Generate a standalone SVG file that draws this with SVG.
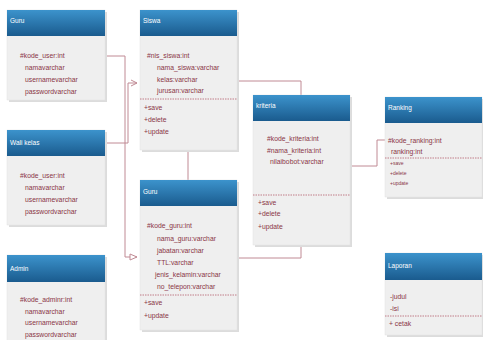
<svg xmlns="http://www.w3.org/2000/svg" width="483" height="340" viewBox="0 0 483 340">
<defs>
<linearGradient id="hg" x1="0" y1="0" x2="0" y2="1">
<stop offset="0" stop-color="#3c93cc"/>
<stop offset="1" stop-color="#1a5b8e"/>
</linearGradient>
<marker id="arr" markerWidth="8" markerHeight="8" refX="7" refY="4" orient="auto" markerUnits="userSpaceOnUse">
<path d="M1,1 L7,4 L1,7" fill="none" stroke="#c08a94" stroke-width="1"/>
</marker>
<marker id="tri" markerWidth="10" markerHeight="10" refX="8" refY="4" orient="auto" markerUnits="userSpaceOnUse">
<path d="M1,1 L8,4 L1,7 Z" fill="#ffffff" stroke="#c08a94" stroke-width="1"/>
</marker>
</defs>
<style>
.body{fill:#efefef;stroke:#e2e2e2;stroke-width:0.5}
.sh{fill:#dcdcdc}
.hd{fill:url(#hg)}
.ht{font-family:"Liberation Sans",Arial,sans-serif;font-size:6.5px;fill:#ffffff}
.t{font-family:"Liberation Sans",Arial,sans-serif;font-size:6.8px;fill:#8a3646}
.ts{font-family:"Liberation Sans",Arial,sans-serif;font-size:5px;fill:#8a3646}
.sep{stroke:#b5606e;stroke-width:0.8;stroke-dasharray:1.5,1}
.c{fill:none;stroke:#c08a94;stroke-width:1}
</style>
<rect width="483" height="340" fill="#ffffff"/>

<g id="connectors">
<path class="c" d="M105,56 H125 V257 H137" marker-end="url(#tri)"/>
<path class="c" d="M105,143 H128 V83 H137" marker-end="url(#arr)"/>
<path class="c" d="M237,81 H301 V95"/>
<path class="c" d="M188,150 V180"/>
<path class="c" d="M237,258 H301 V245"/>
<path class="c" d="M350,166 H377 V140 H385"/>
</g>

<g id="guru_user">
<rect class="sh" x="9" y="12" width="98" height="90"/>
<rect class="body" x="7" y="10" width="98" height="90"/>
<rect class="hd" x="7" y="10" width="98" height="26"/>
<text class="ht" x="10" y="23">Guru</text>
<text class="t" x="20" y="58">#kode_user:int</text>
<text class="t" x="25" y="70">namavarchar</text>
<text class="t" x="25" y="82">usernamevarchar</text>
<text class="t" x="25" y="94">passwordvarchar</text>
</g>

<g id="wali_kelas">
<rect class="sh" x="9" y="132" width="98" height="95"/>
<rect class="body" x="7" y="130" width="98" height="95"/>
<rect class="hd" x="7" y="130" width="98" height="26"/>
<text class="ht" x="10" y="145">Wali kelas</text>
<text class="t" x="20" y="178">#kode_user:int</text>
<text class="t" x="25" y="190">namavarchar</text>
<text class="t" x="25" y="202">usernamevarchar</text>
<text class="t" x="25" y="214">passwordvarchar</text>
</g>

<g id="admin">
<rect class="sh" x="9" y="257" width="98" height="90"/>
<rect class="body" x="7" y="255" width="98" height="90"/>
<rect class="hd" x="7" y="255" width="98" height="27"/>
<text class="ht" x="10" y="271">Admin</text>
<text class="t" x="20" y="302">#kode_adminr:int</text>
<text class="t" x="25" y="314">namavarchar</text>
<text class="t" x="25" y="325">usernamevarchar</text>
<text class="t" x="25" y="337">passwordvarchar</text>
</g>

<g id="siswa">
<rect class="sh" x="142" y="12" width="97" height="140"/>
<rect class="body" x="140" y="10" width="97" height="140"/>
<rect class="hd" x="140" y="10" width="97" height="26"/>
<text class="ht" x="143" y="23">Siswa</text>
<text class="t" x="147" y="58">#nis_siswa:int</text>
<text class="t" x="157" y="70">nama_siswa:varchar</text>
<text class="t" x="157" y="82">kelas:varchar</text>
<text class="t" x="157" y="93">jurusan:varchar</text>
<line class="sep" x1="140" y1="99" x2="237" y2="99"/>
<text class="t" x="144" y="110">+save</text>
<text class="t" x="144" y="122">+delete</text>
<text class="t" x="144" y="134">+update</text>
</g>

<g id="guru">
<rect class="sh" x="142" y="182" width="97" height="150"/>
<rect class="body" x="140" y="180" width="97" height="150"/>
<rect class="hd" x="140" y="180" width="97" height="26"/>
<text class="ht" x="143" y="194">Guru</text>
<text class="t" x="147" y="228">#kode_guru:int</text>
<text class="t" x="157" y="241">nama_guru:varchar</text>
<text class="t" x="157" y="253">jabatan:varchar</text>
<text class="t" x="157" y="265">TTL:varchar</text>
<text class="t" x="155" y="277">jenis_kelamin:varchar</text>
<text class="t" x="157" y="289">no_telepon:varchar</text>
<line class="sep" x1="140" y1="295" x2="237" y2="295"/>
<text class="t" x="144" y="305">+save</text>
<text class="t" x="144" y="318">+update</text>
</g>

<g id="kriteria">
<rect class="sh" x="255" y="97" width="97" height="150"/>
<rect class="body" x="253" y="95" width="97" height="150"/>
<rect class="hd" x="253" y="95" width="97" height="26"/>
<text class="ht" x="256" y="108">kriteria</text>
<text class="t" x="267" y="141">#kode_kriteria:int</text>
<text class="t" x="267" y="153">#nama_kriteria:int</text>
<text class="t" x="270" y="164">nilaibobot:varchar</text>
<line class="sep" x1="253" y1="195" x2="350" y2="195"/>
<text class="t" x="258" y="205">+save</text>
<text class="t" x="258" y="216">+delete</text>
<text class="t" x="258" y="229">+update</text>
</g>

<g id="ranking">
<rect class="sh" x="387" y="99" width="96" height="100"/>
<rect class="body" x="385" y="97" width="97" height="100"/>
<rect class="hd" x="385" y="97" width="97" height="26"/>
<text class="ht" x="388" y="110">Ranking</text>
<text class="t" x="388" y="143">#kode_ranking:int</text>
<text class="t" x="391" y="154">ranking:int</text>
<line class="sep" x1="385" y1="158" x2="482" y2="158"/>
<text class="ts" x="390" y="165">+save</text>
<text class="ts" x="390" y="175">+delete</text>
<text class="ts" x="390" y="185">+update</text>
</g>

<g id="laporan">
<rect class="sh" x="387" y="255" width="96" height="82"/>
<rect class="body" x="385" y="253" width="97" height="82"/>
<rect class="hd" x="385" y="253" width="97" height="27"/>
<text class="ht" x="388" y="268">Laporan</text>
<text class="t" x="390" y="299">-judul</text>
<text class="t" x="390" y="311">-isi</text>
<line class="sep" x1="385" y1="316" x2="482" y2="316"/>
<text class="t" x="389" y="326">+ cetak</text>
</g>
</svg>
